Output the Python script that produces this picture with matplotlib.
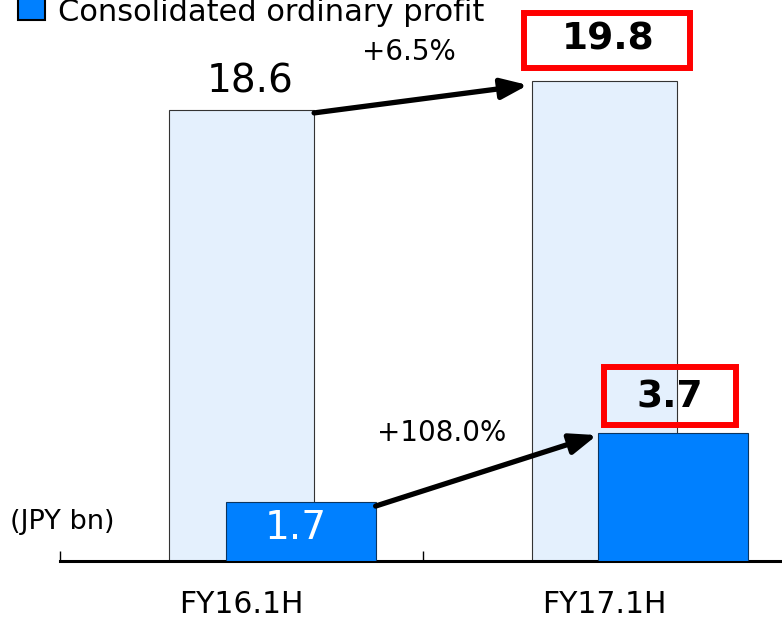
import matplotlib

matplotlib.use("Agg")
from matplotlib import pyplot as plt
from matplotlib.patches import Rectangle
from matplotlib.transforms import IdentityTransform

categories = ["FY16.1H", "FY17.1H"]
sales = [18.6, 19.8]
profit = [1.7, 3.7]
sales_change = "+6.5%"
profit_change = "+108.0%"
legend_label = "Consolidated ordinary profit"
unit_label = "(JPY bn)"

light = "#E4F0FD"
blue = "#0080FF"
red = "#FF0000"

W, H = 782, 617
fig = plt.figure(figsize=(W / 100, H / 100), dpi=100)
plt.rcParams["font.family"] = ["DejaVu Sans"]

# axes in pixel layout: x axis from 60px, baseline at 560.5px, 363px per category
ax = fig.add_axes([60 / W, (H - 560.5) / H, 722 / W, 560.5 / H])
ax.set_xlim(-0.5, -0.5 + 722 / 363)
ax.set_ylim(0, 560.5 / 24.22)
ax2 = ax.twinx()
ax2.set_ylim(0, 560.5 / 34.45)

x = list(range(len(categories)))
dark_shift = [0.163, 0.189]
x_dark = [i + s for i, s in zip(x, dark_shift)]
w_light, w_dark = 0.4, 0.413

ax.bar(x, sales, width=w_light, color=light, edgecolor="#333333", linewidth=0.8, zorder=2)
ax2.bar(x_dark, profit, width=w_dark, color=blue, edgecolor="#0B3560", linewidth=0.8, zorder=2)

for a in (ax, ax2):
    for s in ("top", "left", "right"):
        a.spines[s].set_visible(False)
ax2.spines["bottom"].set_visible(False)
ax2.set_yticks([])
ax.set_yticks([])
ax.spines["bottom"].set_linewidth(2.2)
ax.set_xticks(x)
ax.set_xticklabels(categories, fontsize=21.5)
ax.tick_params(axis="x", which="major", length=0, pad=21)
ax.set_xticks([-0.5, 0.5], minor=True)
ax.tick_params(axis="x", which="minor", direction="in", length=7.5, width=1, color="black")

# value labels
ax.annotate(f"{sales[0]}", (x[0], sales[0]), xytext=(8.5, 29), textcoords="offset pixels",
            ha="center", va="center", fontsize=28)
ax.annotate(f"{sales[1]}", (x[1], sales[1]), xytext=(3.5, 41), textcoords="offset pixels",
            ha="center", va="center", fontsize=27, fontweight="bold")
ax2.annotate(f"{profit[0]}", (x_dark[0], profit[0]), xytext=(-4.5, -26), textcoords="offset pixels",
             ha="center", va="center", fontsize=28, color="white")
ax2.annotate(f"{profit[1]}", (x_dark[1], profit[1]), xytext=(-3.5, 36), textcoords="offset pixels",
             ha="center", va="center", fontsize=27, fontweight="bold")


def red_box(axis, xd, yd, dx, dy, bw, bh):
    cx, cy = axis.transData.transform((xd, yd))
    cx, cy = cx + dx, cy + dy
    inset = 3
    fig.add_artist(Rectangle((cx - bw / 2 + inset, cy - bh / 2 + inset), bw - 2 * inset, bh - 2 * inset,
                             transform=IdentityTransform(), fill=False, edgecolor=red,
                             linewidth=4.3, joinstyle="miter", zorder=5))


red_box(ax, x[1], sales[1], 2.5, 40.5, 172, 61)
red_box(ax2, x_dark[1], profit[1], -3, 37, 138, 64)

# growth arrows
arrow = dict(arrowstyle="-|>,head_length=1.6,head_width=0.62", color="black", lw=3.8,
             shrinkA=0, shrinkB=0)
ax.annotate("", xy=(x[1] - w_light / 2 - 0.011, sales[1] - 0.17),
            xytext=(x[0] + w_light / 2, sales[0] - 0.12), arrowprops=arrow)
ax2.annotate("", xy=(x_dark[1] - w_dark / 2 - 0.003, profit[1] - 0.06),
             xytext=(x_dark[0] + w_dark / 2, profit[0] - 0.12), arrowprops=arrow, zorder=4)

ax.annotate(sales_change, ((x[0] + x[1]) / 2, (sales[0] + sales[1]) / 2), xytext=(-14, 43),
            textcoords="offset pixels", ha="center", va="center", fontsize=20)
ax2.annotate(profit_change, ((x_dark[0] + x_dark[1]) / 2 + 0.02, (profit[0] + profit[1]) / 2),
             xytext=(-53, 34), textcoords="offset pixels", ha="center", va="center", fontsize=20)

fig.text(10 / W, 1 - 522 / H, unit_label, ha="left", va="center", fontsize=19.5)

# legend
fig.add_artist(Rectangle((18 / W, 1 - 20 / H), 27 / W, 27 / H, transform=fig.transFigure,
                         facecolor=blue, edgecolor="black", linewidth=1.5))
fig.text(58 / W, 1 - 21 / H, legend_label, ha="left", va="baseline", fontsize=22)

fig.savefig("out.png", dpi=100)
